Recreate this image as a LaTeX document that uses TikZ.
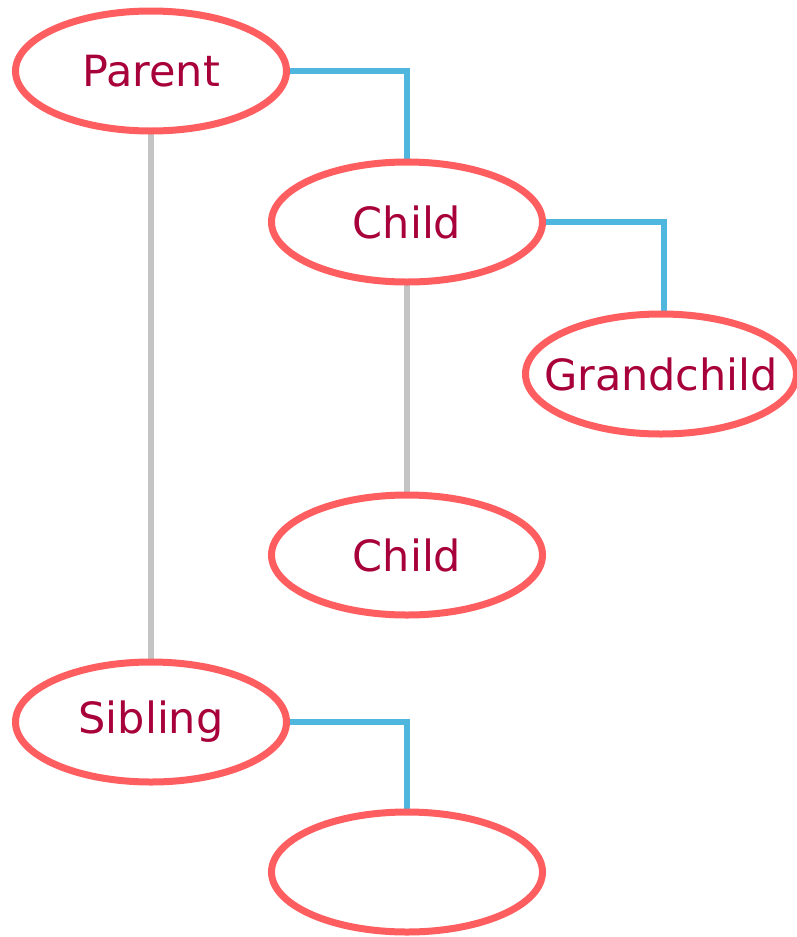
\documentclass[tikz,border=0pt]{standalone}
\usepackage{fontspec}
\setmainfont{DejaVu Sans}
\usetikzlibrary{shapes.geometric,backgrounds}
\definecolor{ringred}{HTML}{FF5E60}
\definecolor{labelred}{HTML}{A8003A}
\definecolor{linkblue}{HTML}{4FB6DE}
\definecolor{linkgray}{HTML}{C4C4C4}
% zero-width label so long names do not widen the ring
\newcommand{\ringtext}[1]{\makebox[0pt]{#1}}
\begin{document}
\begin{tikzpicture}[x=1pt,y=-1pt,
  member/.style={ellipse, draw=ringred, line width=7pt, fill=white,
    minimum width=271pt, minimum height=120pt, inner sep=0pt, outer sep=0pt,
    text=labelred, font=\fontsize{43}{50}\selectfont},
  elbow/.style={draw=linkblue, line width=6pt},
  trunk/.style={draw=linkgray, line width=6pt}]
\useasboundingbox (0,0) rectangle (796,937);

\node[member] (parent) at (151,71) {\ringtext{Parent}};
\node[member] (child1) at (407,222) {\ringtext{Child}};
\node[member] (grand)  at (661,374) {\ringtext{Grandchild}};
\node[member] (child2) at (407,555) {\ringtext{Child}};
\node[member] (sib)    at (151,722) {\ringtext{Sibling}};
\node[member] (empty)  at (407,872) {};

\coordinate (k1) at (407,71);
\coordinate (k2) at (664,222);
\coordinate (k3) at (407,722);

\begin{scope}[on background layer]
  \fill[white] (0,0) rectangle (796,937);
  \path[elbow] (parent.east) -- (k1) -- (child1.north);
  \path[elbow] (child1.east) -- (k2) -- (k2 |- grand.north);
  \path[elbow] (sib.east) -- (k3) -- (empty.north);
  \path[trunk] (parent.south) -- (sib.north);
  \path[trunk] (child1.south) -- (child2.north);
\end{scope}
\end{tikzpicture}
\end{document}
